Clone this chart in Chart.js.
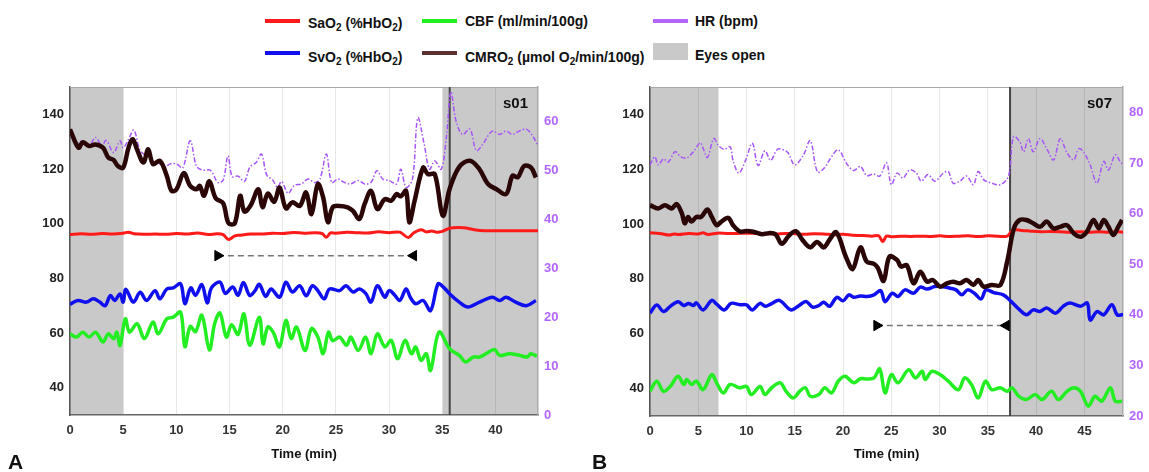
<!DOCTYPE html>
<html>
<head>
<meta charset="utf-8">
<script src="https://cdn.jsdelivr.net/npm/chart.js@4.4.1/dist/chart.umd.min.js"></script>
<style>
body { margin: 0; background: #fff; width: 1149px; height: 472px; overflow: hidden; position: relative; font-family: "Liberation Sans", Arial, sans-serif; }
.box { position: absolute; top: 80px; height: 392px; }
#boxA { left: 0; width: 590px; }
#boxB { left: 600px; width: 549px; }
.lg { position: absolute; font-weight: bold; font-size: 14px; color: #111; white-space: nowrap; line-height: 18px; }
.lg sub { font-size: 10px; vertical-align: -3px; line-height: 0; }
.sw { position: absolute; width: 35px; height: 4px; }
.tag { position: absolute; font-weight: bold; color: #111; }
</style>
</head>
<body>
<div class="sw" style="left:265px;top:19px;background:#ff1a1a"></div>
<div class="lg" style="left:308px;top:14px">SaO<sub>2</sub> (%HbO<sub>2</sub>)</div>
<div class="sw" style="left:265px;top:51px;background:#1010ee"></div>
<div class="lg" style="left:308px;top:48px">SvO<sub>2</sub> (%HbO<sub>2</sub>)</div>
<div class="sw" style="left:422px;top:19px;background:#22ee22"></div>
<div class="lg" style="left:465px;top:12px">CBF (ml/min/100g)</div>
<div class="sw" style="left:422px;top:51px;background:#5a3030"></div>
<div class="lg" style="left:465px;top:48px">CMRO<sub>2</sub> (µmol O<sub>2</sub>/min/100g)</div>
<div class="sw" style="left:653px;top:19px;background:#b366ff"></div>
<div class="lg" style="left:695px;top:12px">HR (bpm)</div>
<div class="sw" style="left:653px;top:43px;height:17px;background:#c9c9c9"></div>
<div class="lg" style="left:695px;top:46px">Eyes open</div>

<div class="box" id="boxA"><canvas id="chartA"></canvas></div>
<div class="box" id="boxB"><canvas id="chartB"></canvas></div>

<div class="tag" style="left:503px;top:94px;font-size:15px">s01</div>
<div class="tag" style="left:1087px;top:94px;font-size:15px">s07</div>
<div class="tag" style="left:8px;top:450px;font-size:21px">A</div>
<div class="tag" style="left:592px;top:450px;font-size:21px">B</div>

<script>
// ---- panel A (s01), time in min ----
const cmro2A = [[0,134.5],[0.8,127.8],[1.2,129.8],[1.8,128.4],[2.4,129],[3.1,127.8],[3.6,124.2],[4.1,123.3],[4.5,121.1],[5.0,120.5],
  [5.5,127.8],[5.9,130.9],[6.3,127.2],[6.9,122.4],[7.35,127.2],[7.8,121.8],[8.45,123],[9.1,117.5],[9.55,112],[10.0,112.5],
  [10.7,118.5],[11.3,113.8],[11.9,112.6],[12.2,113.8],[12.6,110.2],[13.1,115.5],[13.7,109.3],[14.4,107.5],[14.9,100.2],[15.5,100.2],
  [16.0,110.2],[16.4,104.4],[17.0,106.8],[17.7,112.6],[18.1,106],[18.6,111],[19.2,108],[19.7,113.2],[20.3,105.6],[20.9,107.8],
  [21.6,106.5],[22.2,111.4],[22.7,103.5],[23.3,114.5],[23.8,109.6],[24.25,100.5],[24.7,106],[25.35,106.5],[26.1,106],[26.6,104.7],
  [27.2,101.7],[27.7,107.2],[28.3,112],[28.9,105.3],[29.6,109],[30.2,108.4],[30.7,110.8],[31.1,110],[31.6,112],[31.9,100.5],
  [32.4,108.4],[33.2,120.5],[33.65,118.1],[34.3,118.1],[35.05,102.9],[35.7,112.8],[36.6,120.8],[37.6,123],[38.5,119.9],[39.3,114.5],
  [40.1,112.6],[41.0,110.8],[41.6,117.5],[42.1,117],[42.7,121.1],[43.35,120.5],[43.8,116.9]];
const sao2A = [[0,96],[1,96.3],[2,96.1],[3,96.4],[4,96.2],[5,96.5],[5.5,96.9],[6,96.3],[7,96.1],[8,96.2],[9,96.1],[10,96.4],
  [11,96.2],[12,96.6],[13,96.0],[13.8,96.3],[14.4,96],[14.9,94.2],[15.5,95.5],[16,95.8],[17,96.2],[18,96.2],[19,96.5],[20,96.4],
  [21,96.8],[22,96.5],[23,96.7],[23.7,96.4],[24.1,95],[24.5,96.6],[25,96.5],[26,96.9],[27,96.7],[28,96.6],[29,97],[30,96.7],
  [31,96.9],[31.8,94.9],[32.3,96.6],[33,97.8],[33.5,97],[34,97.3],[34.5,96.9],[35,97.2],[35.6,98.2],[36,98.5],[37,98.5],[38,97.8],
  [39,97.4],[40,97.4],[41,97.4],[42,97.4],[43,97.4],[44,97.4]];
const svo2A = [[0,70.5],[0.75,71.9],[1.55,71.3],[2.2,72.5],[2.8,71.3],[3.3,70],[3.8,73.7],[4.2,71.9],[4.7,74.3],[5.0,71.3],
  [5.25,76],[5.95,71.3],[6.6,74.9],[7.2,71.9],[8.0,75.5],[8.45,72.5],[9.1,76.1],[9.7,76.5],[10.4,78],[10.8,70.7],
  [11.35,76.5],[11.8,73.8],[12.4,77.7],[12.9,71],[13.3,76.5],[14.1,78.6],[14.6,74.5],[15.3,76.8],[15.8,73.8],[16.3,78.5],
  [16.9,73.7],[17.4,75.5],[17.8,77.8],[18.4,73.4],[18.9,76.1],[19.7,73.1],[20.3,78.6],[20.9,75],[21.6,77.3],[22.2,73.6],
  [22.8,77.3],[23.3,75.5],[23.9,72.5],[24.4,76.1],[25.35,75.5],[25.95,77.3],[26.6,75],[27.2,76.1],[27.8,74.5],[28.3,71.3],
  [28.9,77.3],[29.6,73.1],[30.0,75.5],[30.5,74],[31.0,71.9],[31.6,76.1],[32.0,73],[32.5,70.7],[33.2,71.9],[33.9,68.2],
  [34.6,78],[35.1,76.8],[35.7,74.3],[36.6,71.3],[37.4,69.5],[38.5,71.3],[39.7,73.1],[40.4,71.9],[41.0,73.1],[41.9,71.3],
  [42.9,70],[43.8,71.9]];
const cbfA = [[0,59.7],[0.6,58.5],[1.2,60.3],[1.8,58.5],[2.4,60.3],[3.1,56.7],[3.6,59.7],[4.1,57.9],[4.4,60.3],[4.7,55.4],
  [5.2,65.2],[5.6,60.3],[6.3,63.4],[7.0,58],[7.8,64],[8.3,59.7],[9.1,65.2],[9.7,65.8],[10.4,67.6],[10.8,55],
  [11.3,62.4],[11.8,60.5],[12.4,66.5],[13.1,53.8],[13.6,63.4],[14.1,67.3],[14.7,58.5],[15.2,63],[15.8,59.5],[16.35,67],
  [16.9,55.5],[17.8,65.8],[18.15,56],[18.6,62.2],[19.1,60.3],[19.7,54.9],[20.3,64.6],[20.8,58],[21.3,62.2],[22.1,53.6],
  [22.7,61.6],[23.3,58.5],[23.8,52.4],[24.3,60.3],[24.7,57.2],[25.35,58.5],[26.0,55.5],[26.4,58.5],[27.1,53.6],[27.8,58.5],
  [28.3,52.4],[28.9,59.7],[29.6,54.9],[30.2,57.3],[30.8,50.6],[31.5,57.3],[32.1,52.4],[32.5,54.9],[33.0,50],[33.5,52.4],
  [33.9,46.3],[34.7,60.3],[35.7,54.2],[36.6,51.8],[37.2,49.4],[37.9,51.2],[38.5,51.2],[39.1,52.4],[39.9,54],[40.4,51.8],
  [41.3,52.4],[42.3,51.8],[43.0,51.2],[43.3,52.4],[43.9,51.5]];
const hrA = [[0,58],[0.65,55.6],[1.2,56],[1.8,55],[2.4,56.7],[3.0,55],[3.4,56.1],[4.1,53.6],[4.7,56],[5.0,54.6],
  [5.5,56.3],[6.0,58.2],[6.6,54],[7.2,52.9],[7.8,51.9],[8.45,51.3],[8.9,50.6],[9.4,51.3],[10.0,51.3],[10.6,50.5],
  [11.3,56],[11.9,50.8],[12.5,50],[13.2,50],[13.9,47.5],[14.4,48],[14.85,52.9],[15.25,48.7],[15.8,48.8],[16.4,47.7],
  [16.9,50.6],[17.5,51.6],[18.0,53.3],[18.5,49],[19.05,48],[19.5,46.5],[19.9,47.7],[20.5,45.3],[21.1,46.9],[21.75,47.2],
  [22.4,48.2],[23.0,47.5],[23.5,48.2],[24.1,53.3],[24.6,47.5],[25.2,48.2],[25.8,47.5],[26.4,47.2],[27.1,47.9],[27.7,47.2],
  [28.3,47.5],[28.85,49.9],[29.4,48.2],[30.0,47.9],[30.7,47.2],[31.1,50.2],[31.6,46.5],[32.2,48.2],[32.7,60.7],[33.3,55.3],
  [33.8,50.2],[34.3,51.9],[34.9,50.2],[35.4,57],[35.8,66],[36.3,60],[36.9,57.3],[37.6,58.4],[38.2,54],[38.8,55.3],
  [39.7,58],[40.4,57.3],[41.0,58],[41.6,57.3],[42.25,58],[42.9,58.4],[43.5,57],[44.0,55]];
const eyesOpenA = [[0, 5], [35.05, 44]];
const markerA = 35.7;
const arrowA = [[13.9, 88.3], [32.3, 88.3]];

// ---- panel B (s07) ----
const cmro2B = [[0,106.9],[0.85,105.7],[1.55,106.9],[2.25,105.7],[2.75,107.3],[3.3,103.9],[3.6,100.3],[3.95,102.6],[4.3,100.9],[4.8,102.6],
  [5.3,102.6],[5.95,105.3],[6.4,102.6],[6.9,99.6],[7.4,100.9],[8.1,102.3],[8.6,99.6],[9.3,97.3],[10.0,97.5],[10.7,97.2],
  [11.6,96.3],[12.3,96.7],[13.0,96.3],[13.65,92.8],[14.4,95.8],[15.1,97.4],[15.8,94.2],[16.6,91.5],[17.3,93.5],[18.0,91.5],
  [18.6,94.3],[19.3,97],[20.3,88],[21.0,83.6],[21.8,91.5],[22.45,86.3],[23.2,85.5],[23.6,84],[24.2,79.3],[24.8,88.1],
  [25.6,86.9],[26.0,84.5],[26.6,85],[27.3,78.4],[28.0,82.6],[28.7,79],[29.3,79.6],[30.05,77.2],[30.75,78.4],[31.4,79],
  [32.1,78.4],[32.8,79.6],[33.5,77.8],[34.0,79.6],[34.55,77.2],[35.4,77.8],[36.3,77.8],[37.0,86.3],[37.7,98.4],[38.3,101.5],
  [39.0,101.5],[39.7,100.3],[40.4,99],[41.1,100.9],[41.8,98.4],[42.5,99],[43.2,99.6],[43.9,96.6],[44.6,95.4],[45.25,97.2],
  [45.95,101.5],[46.5,98.4],[47.0,101.5],[47.5,99],[48.0,96],[48.5,99],[48.9,101.5]];
const sao2B = [[0,96.8],[1,96.6],[2,96],[2.5,96.4],[3,96.2],[4,96.6],[5,96.4],[5.5,96.8],[6,96.2],[7,96.7],[8,96.6],[9,96.6],
  [10,96.7],[11,96.6],[12,96.5],[13,96.4],[14,96.6],[15,96.5],[16,96.3],[17,96.5],[18,96.4],[19,96.1],[20,96.3],[21,95.9],
  [22,95.8],[23,95.6],[23.7,95.7],[24.1,93.6],[24.5,95.6],[25,95.4],[26,95.6],[27,95.5],[28,95.6],[29,95.5],[30,95.7],[31,95.5],
  [32,95.6],[33,95.7],[34,95.5],[35,95.7],[36,95.6],[37,95.6],[37.6,97.8],[38.5,97.7],[39.5,97.4],[40.5,97.2],[41.5,97.3],
  [42.5,97.2],[43.5,97],[44.5,97.2],[45.5,97],[46.5,97.2],[47.5,97],[48.5,97.2],[49,97]];
const svo2B = [[0,67.5],[0.7,70.5],[1.4,68.1],[2.1,70],[2.9,71.7],[3.5,70.3],[4.0,71],[4.5,70.3],[4.8,71.3],[5.5,68.7],
  [6.4,72.2],[6.9,70.8],[7.7,68.7],[8.4,71.1],[9.3,70.6],[10.0,70.5],[10.6,68.7],[11.4,71.1],[11.95,70],[12.6,71],
  [13.4,72.2],[14.6,68.7],[15.45,70.3],[16.15,71.8],[16.85,69.7],[17.5,70.3],[18.0,71.5],[18.6,70],[19.35,73.3],[20.0,72],
  [20.6,74.2],[21.1,73.3],[21.8,73.8],[22.5,73.6],[23.2,74.2],[23.9,75.7],[24.35,71.7],[25.1,74.8],[25.7,73.6],[26.4,76],
  [27.3,74.8],[28.0,77],[28.7,76.3],[29.5,77.2],[30.2,77.2],[31.1,76.6],[31.7,76],[32.3,74.2],[32.9,76],[33.6,74.8],
  [34.3,72.7],[34.8,76],[35.6,75],[36.6,74.2],[37.4,71.8],[38.3,68.7],[39.0,66.9],[39.7,68.7],[40.4,68.1],[41.1,69.4],
  [42.0,67.5],[42.8,70],[43.5,71.2],[44.6,70],[45.3,71.2],[45.6,65],[46.3,68.1],[47.0,66.9],[47.85,70.6],[48.4,66.9],[49,67]];
const cbfB = [[0,39],[0.7,42.7],[1.4,39],[2.1,40.8],[2.9,44.5],[3.5,41.5],[3.8,43.3],[4.3,41.5],[4.8,42.7],[5.5,39.6],
  [6.4,45.1],[6.9,42.1],[7.6,38.4],[8.3,41.5],[9.3,40.3],[10.0,40.8],[10.5,37.8],[11.4,40.8],[11.9,37.8],[12.6,40.3],
  [13.5,42.1],[14.1,39],[14.85,36.6],[15.5,39],[16.1,40.3],[16.6,37.2],[17.5,37.8],[18.1,40.3],[18.8,38.4],[19.5,42.7],
  [20.2,44.5],[21.1,42.1],[21.8,43.6],[22.5,43.5],[23.2,43.9],[23.8,47.2],[24.35,38.4],[25.0,45.1],[25.7,42.1],[26.8,46.9],
  [27.5,43.9],[28.2,46.3],[28.5,43.3],[29.2,46.3],[30.05,45.1],[30.9,42.7],[31.95,39.6],[32.6,43.9],[33.3,41.5],[34.0,36.6],
  [34.75,42.7],[35.4,39.6],[36.3,40.3],[37.0,39],[37.5,40.3],[38.2,37.2],[39.0,36],[39.9,37.8],[40.6,36],[41.6,39],
  [42.3,36],[43.2,39],[43.9,40.3],[44.6,39],[45.4,33.6],[46.1,37.2],[46.8,35.4],[47.7,40.3],[48.2,35.4],[48.9,35.4]];
const hrB = [[0,69.6],[0.5,71.2],[0.85,69.6],[1.4,70.8],[1.9,70.2],[2.6,72.2],[3.2,71.2],[3.8,71],[4.5,72.2],[5.2,74],
  [5.5,72.9],[5.95,71.1],[6.6,74.8],[7.1,73.4],[7.7,72.7],[8.3,73.2],[8.6,70.5],[9.2,68],[9.9,70.5],[10.6,73.9],
  [11.2,69.5],[11.9,72.4],[12.5,70.5],[13.2,72.7],[13.8,72.6],[14.3,72],[15.0,69.6],[15.9,71.6],[16.6,74.4],[17.35,68.2],
  [18.05,69],[18.8,71.2],[19.5,72.6],[20.4,69.8],[21.1,68.5],[21.8,69.3],[22.45,67.5],[23.15,67.8],[23.8,67.4],[24.5,70],
  [25.0,65.7],[25.6,68],[26.2,67],[26.9,68.6],[27.6,68],[28.1,66.4],[28.8,67.7],[29.5,66.4],[30.4,68],[30.9,68.3],
  [31.4,66],[32.1,66.4],[32.8,67.4],[33.5,65.7],[34.0,68.3],[34.55,66.7],[35.4,66],[36.3,65.7],[37.15,67.5],[37.65,75.2],
  [38.3,74.2],[38.7,72.2],[39.2,74.8],[39.7,72.2],[40.4,74.8],[41.1,72.8],[41.8,70.6],[42.5,74.8],[43.2,72],[43.9,70.6],
  [44.4,72.8],[44.9,72.2],[45.6,69.6],[46.3,66],[47.0,70.3],[47.5,68.6],[48.2,71.6],[48.7,70.3],[49,69.6]];
const eyesOpenB = [[0, 7.1], [37.3, 49]];
const markerB = 37.3;
const arrowB = [[23.5, 63], [36.9, 63]];

// axis ticks
const leftTicks = [40, 60, 80, 100, 120, 140];
const hrTicksA = [0, 10, 20, 30, 40, 50, 60];
const hrTicksB = [20, 30, 40, 50, 60, 70, 80];
const timeTicksA = [0, 5, 10, 15, 20, 25, 30, 35, 40];
const timeTicksB = [0, 5, 10, 15, 20, 25, 30, 35, 40, 45];

const FONT = '"Liberation Sans", Arial, sans-serif';
const pts = arr => arr.map(p => ({ x: p[0], y: p[1] }));

const bandPlugin = {
    id: 'bands',
    beforeDraw(chart, args, opts) {
        const { ctx, chartArea: a, scales: { x } } = chart;
        ctx.save();
        ctx.fillStyle = '#c9c9c9';
        opts.spans.forEach(([s, e]) => {
            const x0 = x.getPixelForValue(s), x1 = x.getPixelForValue(e);
            ctx.fillRect(x0, a.top, x1 - x0, a.bottom - a.top);
        });
        ctx.restore();
    },
    beforeDatasetsDraw(chart, args, opts) {
        const { ctx, chartArea: a, scales: { x } } = chart;
        ctx.save();
        // frame top
        ctx.strokeStyle = '#a8a8a8';
        ctx.lineWidth = 1;
        ctx.beginPath();
        ctx.moveTo(a.left, a.top + 0.5);
        ctx.lineTo(a.right, a.top + 0.5);
        ctx.stroke();
        // eyes-open onset marker
        const xm = x.getPixelForValue(opts.marker);
        ctx.strokeStyle = '#444';
        ctx.lineWidth = 2;
        ctx.beginPath();
        ctx.moveTo(xm, a.top);
        ctx.lineTo(xm, a.bottom);
        ctx.stroke();
        ctx.restore();
    }
};

function makePanel(id, d) {
    const line = (data, color, width, axis, extra) => Object.assign({
        data: pts(data), borderColor: color, borderWidth: width, yAxisID: axis,
        pointRadius: 0, tension: 0.35, fill: false
    }, extra || {});
    const vFit = w => s => { s.width = w; s.paddingTop = 0; s.paddingBottom = 0; };
    return new Chart(document.getElementById(id), {
        type: 'line',
        data: {
            datasets: [
                line(d.arrow, '#777', 1.5, 'y', {
                    tension: 0, borderDash: [6, 4], pointStyle: 'triangle', pointRadius: 6,
                    pointRotation: [90, -90], pointBackgroundColor: '#000', pointBorderColor: '#000', pointBorderWidth: 1
                }),
                line(d.cmro2, '#2a0606', 4.5, 'y'),
                line(d.sao2, '#ff1a1a', 3, 'y'),
                line(d.svo2, '#1010ee', 3.5, 'y'),
                line(d.cbf, '#22ee22', 3.5, 'y'),
                line(d.hr, '#a855f7', 1.5, 'y1', { borderDash: [5, 2, 1.5, 2] })
            ]
        },
        options: {
            responsive: true,
            maintainAspectRatio: false,
            animation: false,
            layout: { padding: { top: d.padTop, left: 0, right: 0, bottom: 0 } },
            plugins: {
                legend: { display: false },
                tooltip: { enabled: false },
                bands: { spans: d.spans, marker: d.marker }
            },
            scales: {
                x: {
                    type: 'linear', min: 0, max: d.xMax,
                    afterBuildTicks: s => { s.ticks = d.timeTicks.map(v => ({ value: v })); },
                    afterFit: s => { s.height = d.xHeight; },
                    ticks: { autoSkip: false, maxRotation: 0, padding: 8, color: '#333', font: { family: FONT, size: 13, weight: 'bold' } },
                    grid: { color: 'rgba(0,0,0,0.09)', drawTicks: false },
                    border: { color: '#666', width: 1.5 },
                    title: { display: true, text: 'Time (min)', color: '#111', padding: { top: 4, bottom: 10 }, font: { family: FONT, size: 13, weight: 'bold' } }
                },
                y: {
                    position: 'left', min: 30, max: 150,
                    afterBuildTicks: s => { s.ticks = leftTicks.map(v => ({ value: v })); },
                    afterFit: vFit(d.yWidth),
                    ticks: { padding: 6, color: '#222', font: { family: FONT, size: 13, weight: 'bold' } },
                    grid: { display: false, drawTicks: false },
                    border: { color: '#555', width: 1.5 }
                },
                y1: {
                    position: 'right', min: d.hrMin, max: d.hrMax,
                    afterBuildTicks: s => { s.ticks = d.hrTicks.map(v => ({ value: v })); },
                    afterFit: vFit(d.y1Width),
                    ticks: { padding: 6, color: '#b366ff', font: { family: FONT, size: 13, weight: 'bold' } },
                    grid: { display: false, drawTicks: false },
                    border: { color: '#aaa', width: 1.5 }
                }
            }
        },
        plugins: [bandPlugin]
    });
}

makePanel('chartA', {
    cmro2: cmro2A, sao2: sao2A, svo2: svo2A, cbf: cbfA, hr: hrA, arrow: arrowA,
    spans: eyesOpenA, marker: markerA, xMax: 44, timeTicks: timeTicksA,
    hrMin: 0, hrMax: 67, hrTicks: hrTicksA,
    padTop: 7, yWidth: 70, y1Width: 52, xHeight: 57
});
makePanel('chartB', {
    cmro2: cmro2B, sao2: sao2B, svo2: svo2B, cbf: cbfB, hr: hrB, arrow: arrowB,
    spans: eyesOpenB, marker: markerB, xMax: 49, timeTicks: timeTicksB,
    hrMin: 20, hrMax: 85, hrTicks: hrTicksB,
    padTop: 6, yWidth: 50, y1Width: 26, xHeight: 56
});
</script>
</body>
</html>
